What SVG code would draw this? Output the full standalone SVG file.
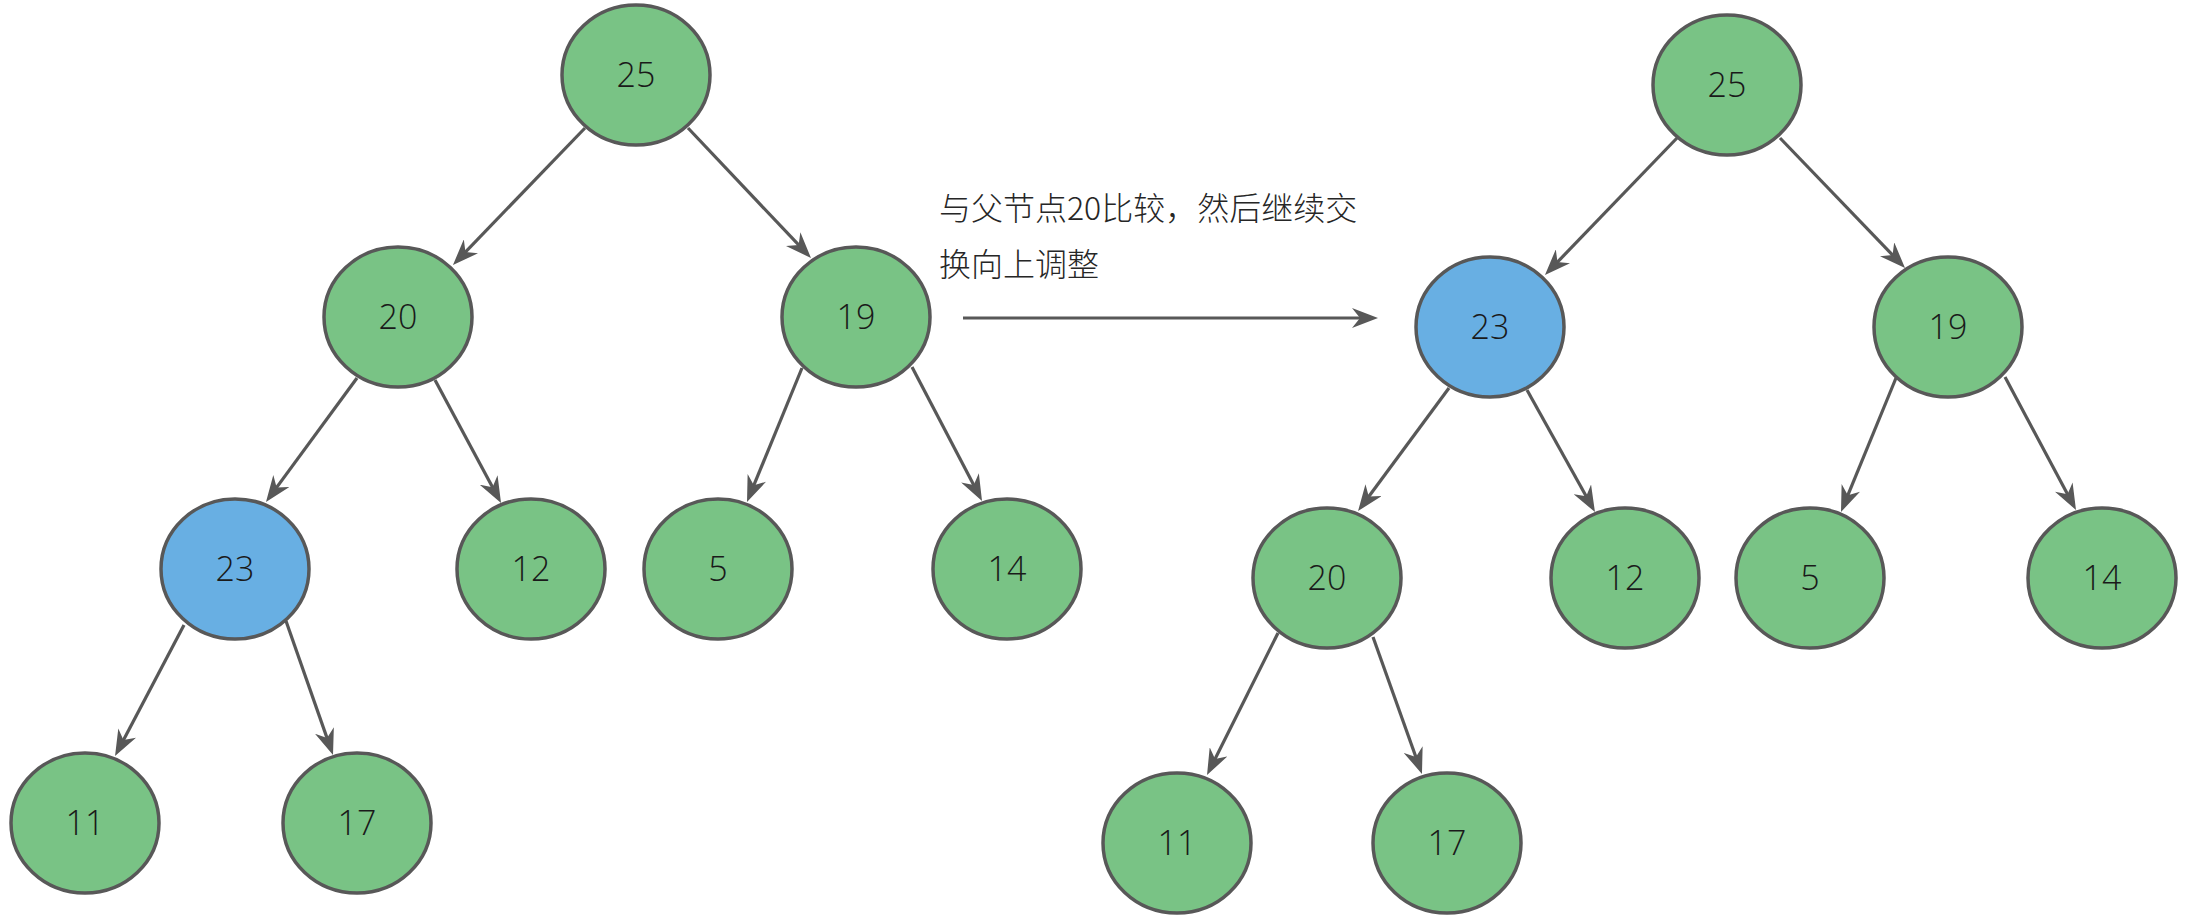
<svg xmlns="http://www.w3.org/2000/svg" width="2188" height="918" viewBox="0 0 2188 918">
<style>
.n{stroke:#585858;stroke-width:3.5}
.g{fill:#79C385}
.b{fill:#68AFE3}
.t{font-family:"Open Sans","Noto Sans","Liberation Sans",sans-serif;font-size:34px;font-weight:300;fill:#1a1a1a;text-anchor:middle}
.e{stroke:#585858;stroke-width:3.2;fill:none;marker-end:url(#ah)}
.c{font-family:"Noto Sans CJK SC","Noto Sans",sans-serif;font-size:32px;font-weight:300;fill:#262626}
</style>
<defs>
<marker id="ah" markerUnits="userSpaceOnUse" markerWidth="26" markerHeight="20" viewBox="0 0 26 20" refX="16" refY="10" orient="auto">
<path d="M26,10 L0,0 L8,10 L0,20 Z" fill="#585858"/>
</marker>
</defs>
<rect width="2188" height="918" fill="#ffffff"/>
<g id="connectors">
<path class="e" d="M585,128 L459.9,257.8"/>
<path class="e" d="M688,128 L804.1,250.7"/>
<path class="e" d="M357,378 L271.9,493.9"/>
<path class="e" d="M435,380 L496.3,494.2"/>
<path class="e" d="M802,368 L750.8,492.7"/>
<path class="e" d="M912,367 L977.4,492.1"/>
<path class="e" d="M184,625 L119.7,747.2"/>
<path class="e" d="M286,621 L329.7,745.6"/>
<path class="e" d="M1677,138 L1551.9,267.8"/>
<path class="e" d="M1780,138 L1898.1,260.8"/>
<path class="e" d="M1449,388 L1364,503"/>
<path class="e" d="M1527,390 L1590.1,503.3"/>
<path class="e" d="M1896,378 L1844.8,502.7"/>
<path class="e" d="M2005,377 L2071.3,501.2"/>
<path class="e" d="M1278,633 L1211.5,766.1"/>
<path class="e" d="M1373,637 L1418.6,764.6"/>
<path class="e" d="M963,318 L1368,318"/>
</g>
<g id="label">
<text class="c" x="939" y="220">与父节点20比较，然后继续交</text>
<text class="c" x="939" y="276">换向上调整</text>
</g>
<g id="L25"><ellipse class="n g" cx="636" cy="75" rx="74" ry="70"/><text class="t" x="636" y="87">25</text></g>
<g id="L20"><ellipse class="n g" cx="398" cy="317" rx="74" ry="70"/><text class="t" x="398" y="329">20</text></g>
<g id="L19"><ellipse class="n g" cx="856" cy="317" rx="74" ry="70"/><text class="t" x="856" y="329">19</text></g>
<g id="L23"><ellipse class="n b" cx="235" cy="569" rx="74" ry="70"/><text class="t" x="235" y="581">23</text></g>
<g id="L12"><ellipse class="n g" cx="531" cy="569" rx="74" ry="70"/><text class="t" x="531" y="581">12</text></g>
<g id="L5"><ellipse class="n g" cx="718" cy="569" rx="74" ry="70"/><text class="t" x="718" y="581">5</text></g>
<g id="L14"><ellipse class="n g" cx="1007" cy="569" rx="74" ry="70"/><text class="t" x="1007" y="581">14</text></g>
<g id="L11"><ellipse class="n g" cx="85" cy="823" rx="74" ry="70"/><text class="t" x="85" y="835">11</text></g>
<g id="L17"><ellipse class="n g" cx="357" cy="823" rx="74" ry="70"/><text class="t" x="357" y="835">17</text></g>
<g id="R25"><ellipse class="n g" cx="1727" cy="85" rx="74" ry="70"/><text class="t" x="1727" y="97">25</text></g>
<g id="R23"><ellipse class="n b" cx="1490" cy="327" rx="74" ry="70"/><text class="t" x="1490" y="339">23</text></g>
<g id="R19"><ellipse class="n g" cx="1948" cy="327" rx="74" ry="70"/><text class="t" x="1948" y="339">19</text></g>
<g id="R20"><ellipse class="n g" cx="1327" cy="578" rx="74" ry="70"/><text class="t" x="1327" y="590">20</text></g>
<g id="R12"><ellipse class="n g" cx="1625" cy="578" rx="74" ry="70"/><text class="t" x="1625" y="590">12</text></g>
<g id="R5"><ellipse class="n g" cx="1810" cy="578" rx="74" ry="70"/><text class="t" x="1810" y="590">5</text></g>
<g id="R14"><ellipse class="n g" cx="2102" cy="578" rx="74" ry="70"/><text class="t" x="2102" y="590">14</text></g>
<g id="R11"><ellipse class="n g" cx="1177" cy="843" rx="74" ry="70"/><text class="t" x="1177" y="855">11</text></g>
<g id="R17"><ellipse class="n g" cx="1447" cy="843" rx="74" ry="70"/><text class="t" x="1447" y="855">17</text></g>
</svg>
